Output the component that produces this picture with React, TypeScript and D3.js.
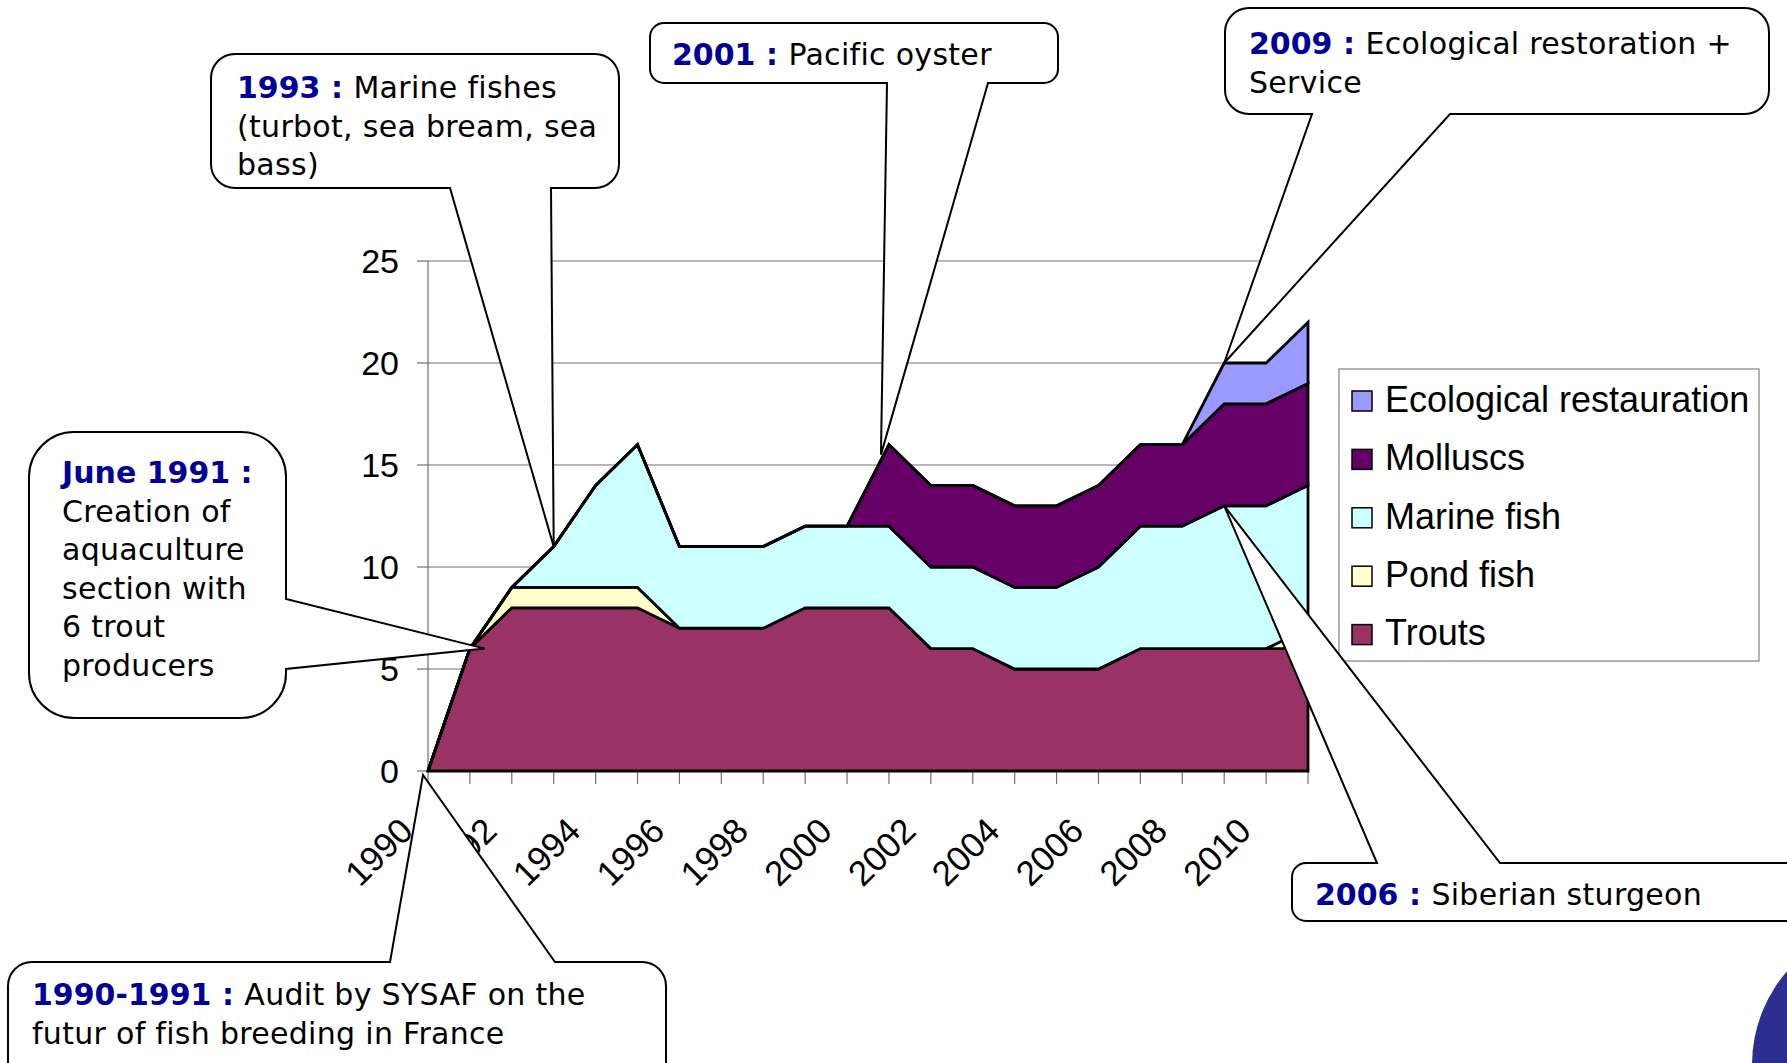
import React from "react";
import * as d3 from "d3";

// ---------- data ----------
const years = [1990, 1991, 1992, 1993, 1994, 1995, 1996, 1997, 1998, 1999, 2000, 2001, 2002, 2003, 2004, 2005, 2006, 2007, 2008, 2009, 2010, 2011];
const trouts = [0, 6, 8, 8, 8, 8, 7, 7, 7, 8, 8, 8, 6, 6, 5, 5, 5, 6, 6, 6, 6, 6];
const pondFish = [0, 0, 1, 1, 1, 1, 0, 0, 0, 0, 0, 0, 0, 0, 0, 0, 0, 0, 0, 0, 0, 1];
const marineFish = [0, 0, 0, 2, 5, 7, 4, 4, 4, 4, 4, 4, 4, 4, 4, 4, 5, 6, 6, 7, 7, 7];
const molluscs = [0, 0, 0, 0, 0, 0, 0, 0, 0, 0, 0, 4, 4, 4, 4, 4, 4, 4, 4, 5, 5, 5];
const ecologicalRestauration = [0, 0, 0, 0, 0, 0, 0, 0, 0, 0, 0, 0, 0, 0, 0, 0, 0, 0, 0, 2, 2, 3];

const seriesNames = ["Trouts", "Pond fish", "Marine fish", "Molluscs", "Ecological restauration"];
const seriesValues = [trouts, pondFish, marineFish, molluscs, ecologicalRestauration];
const seriesColors = ["#993366", "#FFFFCC", "#CCFFFF", "#660066", "#9999FF"];
const yTicks = [0, 5, 10, 15, 20, 25];
const xTickLabels = [1990, 1992, 1994, 1996, 1998, 2000, 2002, 2004, 2006, 2008, 2010];

// ---------- layout ----------
const W = 1787;
const H = 1063;
const X0 = 428;
const X1 = 1308;
const Y0 = 771;
const Y1 = 261;

const x = d3.scaleLinear().domain([years[0], years[years.length - 1]]).range([X0, X1]);
const y = d3.scaleLinear().domain([0, 25]).range([Y0, Y1]);

const rows = years.map((yr, i) => {
  const r: any = { year: yr };
  seriesNames.forEach((n, k) => (r[n] = seriesValues[k][i]));
  return r;
});
const stacked = d3.stack().keys(seriesNames)(rows as any);
const totals = years.map((_, i) => seriesValues.reduce((s, v) => s + v[i], 0));
const totalAt = (yr: number) => totals[years.indexOf(yr)];
const cumAt = (yr: number, upto: number) => {
  const i = years.indexOf(yr);
  let s = 0;
  for (let k = 0; k <= upto; k++) s += seriesValues[k][i];
  return s;
};

const area = d3
  .area<any>()
  .x((d: any) => x(d.data.year))
  .y0((d: any) => y(d[0]))
  .y1((d: any) => y(d[1]));

// ---------- callouts ----------
const BLUE = "#000099";
type Seg = { t: string; b?: boolean };
type Callout = {
  box: [number, number, number, number, number];
  side: "top" | "bottom" | "right";
  base: [number, number];
  tip: [number, number];
  tx: number;
  ty: number;
  lines: Seg[][];
};

const callouts: Callout[] = [
  {
    box: [211, 54, 408, 134, 24],
    side: "bottom",
    base: [450, 551],
    tip: [x(1993), y(totalAt(1993))],
    tx: 237,
    ty: 98,
    lines: [[{ t: "1993", b: true }, { t: " : ", b: true }, { t: "Marine fishes" }], [{ t: "(turbot, sea bream, sea" }], [{ t: "bass)" }]],
  },
  {
    box: [650, 23, 408, 60, 14],
    side: "bottom",
    base: [887, 988],
    tip: [x(2001) - 8, y(totalAt(2001)) + 10],
    tx: 672,
    ty: 65,
    lines: [[{ t: "2001", b: true }, { t: " : ", b: true }, { t: "Pacific oyster" }]],
  },
  {
    box: [1225, 8, 544, 106, 24],
    side: "bottom",
    base: [1312, 1450],
    tip: [x(2009), y(totalAt(2009))],
    tx: 1249,
    ty: 54,
    lines: [[{ t: "2009", b: true }, { t: " : ", b: true }, { t: "Ecological restoration +" }], [{ t: "Service" }]],
  },
  {
    box: [29, 432, 257, 286, 45],
    side: "right",
    base: [599, 669],
    tip: [x(1991) + 15, y(totalAt(1991))],
    tx: 62,
    ty: 483,
    lines: [
      [{ t: "June 1991", b: true }, { t: " :", b: true }],
      [{ t: "Creation of" }],
      [{ t: "aquaculture" }],
      [{ t: "section with" }],
      [{ t: "6 trout" }],
      [{ t: "producers" }],
    ],
  },
  {
    box: [8, 962, 658, 150, 24],
    side: "top",
    base: [390, 555],
    tip: [x(1990) - 5, y(0) + 4],
    tx: 32,
    ty: 1005,
    lines: [[{ t: "1990-1991", b: true }, { t: " : ", b: true }, { t: "Audit by SYSAF on the" }], [{ t: "futur of fish breeding in France" }]],
  },
  {
    box: [1292, 863, 600, 58, 14],
    side: "top",
    base: [1377, 1500],
    tip: [x(2009), y(cumAt(2009, 2))],
    tx: 1315,
    ty: 905,
    lines: [[{ t: "2006", b: true }, { t: " : ", b: true }, { t: "Siberian sturgeon" }]],
  },
];

function bubblePath(c: Callout) {
  const [bx, by, bw, bh, r] = c.box;
  const [a, b] = c.base;
  const [tx, ty] = c.tip;
  const R = bx + bw;
  const B = by + bh;
  let p = `M${bx + r},${by}`;
  if (c.side === "top") p += `L${a},${by}L${tx},${ty}L${b},${by}`;
  p += `L${R - r},${by}A${r},${r} 0 0 1 ${R},${by + r}`;
  if (c.side === "right") p += `L${R},${a}L${tx},${ty}L${R},${b}`;
  p += `L${R},${B - r}A${r},${r} 0 0 1 ${R - r},${B}`;
  if (c.side === "bottom") p += `L${b},${B}L${tx},${ty}L${a},${B}`;
  p += `L${bx + r},${B}A${r},${r} 0 0 1 ${bx},${B - r}`;
  p += `L${bx},${by + r}A${r},${r} 0 0 1 ${bx + r},${by}Z`;
  return p;
}

const LINE_H = 38.5;
const CALLOUT_FONT = "'DejaVu Sans', sans-serif";
const CHART_FONT = "'Liberation Sans', Arial, sans-serif";

// legend layout
const LEG = { x: 1339, y: 369, w: 420, h: 292, sw: 20, rowH: 58.4, first: 400 };
const legendOrder = [4, 3, 2, 1, 0];

export default function App() {
  return (
    <svg
      width={W}
      height={H}
      viewBox={`0 0 ${W} ${H}`}
      style={{ position: "absolute", left: 0, top: 0, background: "#fff" }}
    >
      <rect x={0} y={0} width={W} height={H} fill="#fff" />
      {/* gridlines */}
      {yTicks.map((t) => (
        <line key={"g" + t} x1={X0} x2={X1} y1={y(t)} y2={y(t)} stroke="#707070" strokeWidth={1.2} />
      ))}
      {/* y axis */}
      <line x1={X0} x2={X0} y1={y(0)} y2={y(25)} stroke="#707070" strokeWidth={1.2} />
      {yTicks.map((t) => (
        <g key={"yt" + t}>
          <line x1={X0 - 11} x2={X0} y1={y(t)} y2={y(t)} stroke="#707070" strokeWidth={1.2} />
          <text x={399} y={y(t)} dy="0.35em" textAnchor="end" fontFamily={CHART_FONT} fontSize={34} fill="#000">
            {t}
          </text>
        </g>
      ))}
      {/* x ticks */}
      {years.map((yr) => (
        <line key={"xt" + yr} x1={x(yr)} x2={x(yr)} y1={Y0} y2={Y0 + 13} stroke="#707070" strokeWidth={1.2} />
      ))}
      {xTickLabels.map((yr) => (
        <text
          key={"xl" + yr}
          transform={`translate(${x(yr) - 13},${Y0 + 62}) rotate(-45)`}
          textAnchor="end"
          fontFamily={CHART_FONT}
          fontSize={35}
          fill="#000"
        >
          {yr}
        </text>
      ))}
      {/* areas */}
      {stacked.map((s: any, k: number) => (
        <path
          key={"a" + k}
          d={area(s) as string}
          fill={seriesColors[k]}
          stroke="#000"
          strokeWidth={2.8}
          strokeLinejoin="miter"
        />
      ))}
      {/* legend */}
      <rect x={LEG.x} y={LEG.y} width={LEG.w} height={LEG.h} fill="#fff" stroke="#808080" strokeWidth={1.2} />
      {legendOrder.map((k, i) => {
        const cy = LEG.first + i * LEG.rowH;
        return (
          <g key={"l" + k}>
            <rect x={1352} y={cy - LEG.sw / 2 + 1} width={LEG.sw} height={LEG.sw} fill={seriesColors[k]} stroke="#000" strokeWidth={1.5} />
            <text x={1385} y={cy} dy="0.33em" fontFamily={CHART_FONT} fontSize={36} fill="#000">
              {seriesNames[k]}
            </text>
          </g>
        );
      })}
      {/* callouts */}
      {callouts.map((c, i) => (
        <g key={"c" + i}>
          <path d={bubblePath(c)} fill="#fff" stroke="#000" strokeWidth={2} strokeLinejoin="miter" />
          {c.lines.map((ln, j) => (
            <text
              key={j}
              x={c.tx}
              y={c.ty + j * LINE_H}
              fontFamily={CALLOUT_FONT}
              fontSize={30}
              fill="#000"
              style={{ whiteSpace: "pre" }}
            >
              {ln.map((sg, m) => (
                <tspan
                  key={m}
                  fontWeight={sg.b ? "bold" : "normal"}
                  fill={sg.b ? BLUE : "#000"}
                  letterSpacing={sg.b ? 0 : 0.3}
                >
                  {sg.t}
                </tspan>
              ))}
            </text>
          ))}
        </g>
      ))}
      {/* logo fragment bottom right */}
      <circle cx={1895} cy={1065} r={143} fill="#2b2d8f" />
    </svg>
  );
}
